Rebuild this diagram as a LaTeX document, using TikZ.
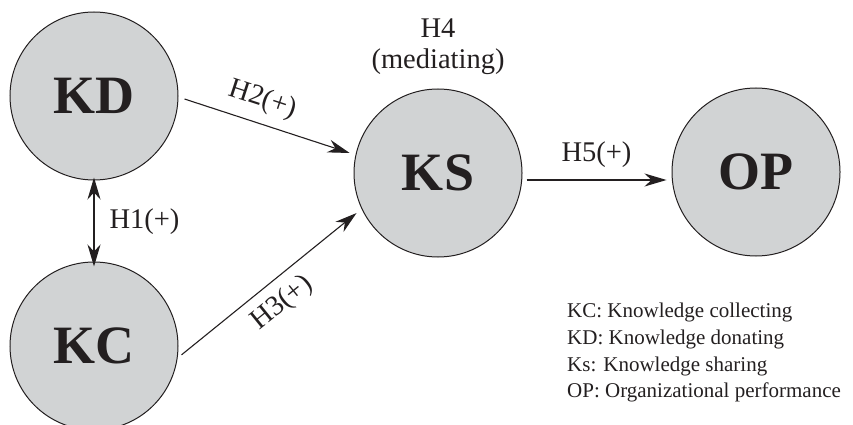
\documentclass[tikz,border=0pt]{standalone}
\usepackage{fontspec}
\setmainfont{Liberation Serif}
\usetikzlibrary{arrows.meta}
\definecolor{circfill}{RGB}{209,211,212}
\definecolor{ink}{RGB}{35,31,32}
\tikzset{
  bigcirc/.style={circle, draw=ink, line width=1pt, fill=circfill, minimum size=168pt, inner sep=0pt,
    font=\fontsize{54}{60}\selectfont\bfseries, text=ink},
  arr/.style={draw=ink, line width=1.1pt, -{Stealth[length=22pt,width=13pt,inset=7pt]}},
  dblarr/.style={draw=ink, line width=1.1pt, {Stealth[length=22pt,width=13pt,inset=7pt]}-{Stealth[length=22pt,width=13pt,inset=7pt]}},
  hlab/.style={font=\fontsize{28.5}{31}\selectfont, text=ink, inner sep=0pt},
  legend/.style={font=\fontsize{21}{26.7}\selectfont, text=ink, inner sep=0pt, align=left}
}
\begin{document}
\begin{tikzpicture}[x=1pt,y=-1pt]
\useasboundingbox (0,0) rectangle (853,425);
\node[bigcirc] (KD) at (94,96) {KD};
\node[bigcirc] (KC) at (94,346) {KC};
\node[bigcirc] (KS) at (438,173) {KS};
\node[bigcirc] (OP) at (756,172) {OP};

\node[hlab, align=center] (H4) at (438,47) {H4\\(mediating)};

\draw[arr] ([shift={(6,3)}]KD.east) -- node[hlab, pos=0.43, sloped, above=10pt] (h2) {H2(+)} ([shift={(-6,-1)}]KS.167);
\draw[arr] ([shift={(3.5,0)}]KC.-6) -- node[hlab, pos=0.49, sloped, below=10pt] (h3) {H3(+)} ([shift={(-5.5,3)}]KS.206);
\draw[arr] ([shift={(4,7)}]KS.east) -- node[hlab, above=12pt] (h5) {H5(+)} ([shift={(-5,8)}]OP.west);
\draw[dblarr] ([yshift=3pt]KD.south) -- node[hlab, right=15pt] (h1) {H1(+)} ([yshift=-5pt]KC.north);

\node[legend, anchor=north west] (leg) at (567,303) {KC: Knowledge collecting\\KD: Knowledge donating\\Ks: Knowledge sharing\\OP: Organizational performance};
\end{tikzpicture}
\end{document}
